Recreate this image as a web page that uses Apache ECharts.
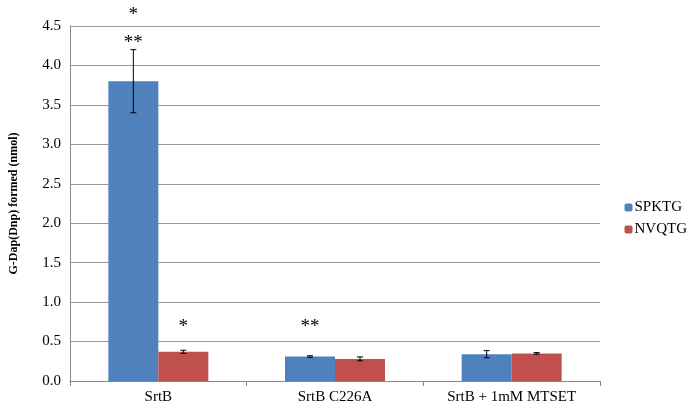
<!DOCTYPE html>
<html>
<head>
<meta charset="utf-8">
<script src="https://cdn.jsdelivr.net/npm/echarts@6/dist/echarts.min.js"></script>
<style>
  html, body { margin: 0; padding: 0; background: #fff; }
  #chart { width: 700px; height: 412px; }
</style>
</head>
<body>
<div id="chart"></div>
<script>
var categories = ["SrtB", "SrtB C226A", "SrtB + 1mM MTSET"];
var seriesNames = ["SPKTG", "NVQTG"];
var spktg = [3.8, 0.31, 0.34];
var nvqtg = [0.37, 0.28, 0.35];
var spktgErr = [0.4, 0.01, 0.045];
var nvqtgErr = [0.02, 0.025, 0.01];
// [category index, series index (0 blue, 1 red), value height, text]
var stars = [
  [0, 0, 4.64, "*"],
  [0, 0, 4.29, "**"],
  [0, 1, 0.69, "*"],
  [1, 0, 0.69, "**"]
];

var BAR_W = 50;
var font = "'Liberation Serif', 'Times New Roman', serif";

function errData(vals, errs) {
  var out = [];
  for (var i = 0; i < vals.length; i++) {
    out.push([i, vals[i] - errs[i], vals[i] + errs[i]]);
  }
  return out;
}

function errRender(offset) {
  return function(params, api) {
    var lo = api.coord([api.value(0), api.value(1)]);
    var hi = api.coord([api.value(0), api.value(2)]);
    var x = lo[0] + offset;
    var cap = 3;
    var style = { stroke: "#000", lineWidth: 1 };
    return {
      type: "group",
      children: [
        { type: "line", shape: { x1: x, y1: lo[1], x2: x, y2: hi[1] }, style: style },
        { type: "line", shape: { x1: x - cap, y1: lo[1], x2: x + cap, y2: lo[1] }, style: style },
        { type: "line", shape: { x1: x - cap, y1: hi[1], x2: x + cap, y2: hi[1] }, style: style }
      ]
    };
  };
}

var chart = echarts.init(document.getElementById("chart"));
var option = {
  animation: false,
  grid: { left: 67, right: 100, top: 26, bottom: 31 },
  legend: {
    data: seriesNames,
    orient: "vertical",
    right: 8,
    top: 195,
    itemWidth: 8,
    itemHeight: 8,
    itemGap: 7,
    textStyle: { fontFamily: font, fontSize: 15, color: "#000", padding: [0, 0, 0, -3] }
  },
  xAxis: {
    type: "category",
    data: categories,
    axisLine: { lineStyle: { color: "#888" } },
    axisTick: { show: true, alignWithLabel: false, length: 5, lineStyle: { color: "#888" } },
    axisLabel: { fontFamily: font, fontSize: 15, color: "#000", margin: 9 }
  },
  yAxis: {
    type: "value",
    min: 0,
    max: 4.5,
    interval: 0.5,
    name: "G-Dap(Dnp) formed (nmol)",
    nameLocation: "middle",
    nameGap: 50,
    nameTextStyle: { fontFamily: font, fontSize: 12, fontWeight: "bold", color: "#000" },
    axisLine: { show: true, lineStyle: { color: "#888" } },
    axisTick: { show: false },
    axisLabel: {
      fontFamily: font, fontSize: 15, color: "#000", margin: 9,
      formatter: function(v) { return v.toFixed(1); }
    },
    splitLine: { lineStyle: { color: "#999", width: 1 } }
  },
  series: [
    {
      name: seriesNames[0],
      type: "bar",
      data: spktg,
      barWidth: BAR_W,
      barGap: "0%",
      itemStyle: { color: "#4f81bd" }
    },
    {
      name: seriesNames[1],
      type: "bar",
      data: nvqtg,
      barWidth: BAR_W,
      barGap: "0%",
      itemStyle: { color: "#c0504d" }
    },
    {
      type: "custom",
      renderItem: errRender(-BAR_W / 2),
      data: errData(spktg, spktgErr),
      encode: { x: 0, y: [1, 2] },
      z: 10,
      silent: true
    },
    {
      type: "custom",
      renderItem: errRender(BAR_W / 2),
      data: errData(nvqtg, nvqtgErr),
      encode: { x: 0, y: [1, 2] },
      z: 10,
      silent: true
    },
    {
      type: "custom",
      data: stars,
      encode: { x: 0, y: 2 },
      z: 10,
      silent: true,
      renderItem: function(params, api) {
        var p = api.coord([api.value(0), api.value(2)]);
        var off = api.value(1) === 0 ? -BAR_W / 2 : BAR_W / 2;
        return {
          type: "text",
          x: p[0] + off,
          y: p[1],
          style: {
            text: stars[params.dataIndex][3],
            fontFamily: font,
            fontSize: 19,
            fill: "#000",
            align: "center",
            verticalAlign: "middle"
          }
        };
      }
    }
  ]
};
chart.setOption(option);
</script>
</body>
</html>
